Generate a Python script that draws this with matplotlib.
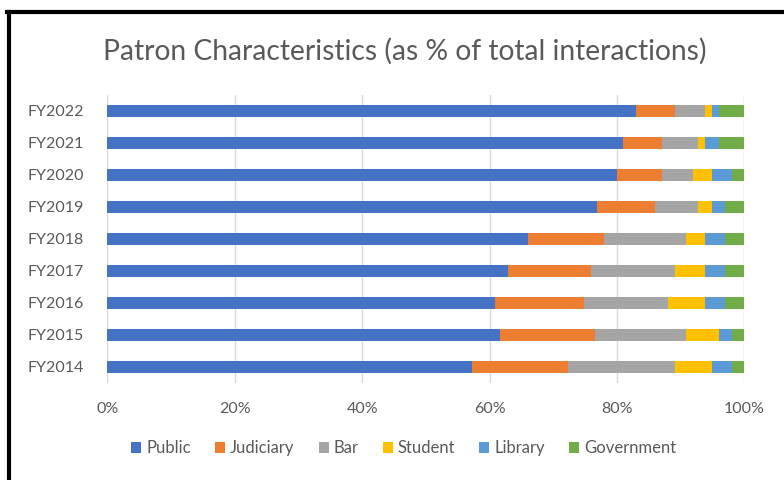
import matplotlib.pyplot as plt
from matplotlib.lines import Line2D
from matplotlib.ticker import PercentFormatter

plt.rcParams['font.family'] = ['Lato', 'DejaVu Sans']

years = ['FY2014', 'FY2015', 'FY2016', 'FY2017', 'FY2018',
         'FY2019', 'FY2020', 'FY2021', 'FY2022']

# share of interactions per patron type, percent
public     = [57.3, 61.6, 60.8, 62.9, 66.0, 76.9, 80.0, 81.0, 83.0]
judiciary  = [15.0, 15.0, 14.0, 13.0, 11.9,  9.1,  7.1,  6.1,  6.1]
bar        = [16.8, 14.2, 13.2, 13.2, 12.9,  6.8,  4.8,  5.7,  4.8]
student    = [ 5.8,  5.2,  5.9,  4.8,  3.1,  2.1,  3.0,  1.1,  1.0]
library    = [ 3.1,  2.0,  3.1,  3.1,  3.1,  2.1,  3.1,  2.1,  1.1]
government = [ 2.0,  2.0,  3.0,  3.0,  3.0,  3.0,  2.0,  4.0,  4.0]

series = [('Public', public, '#4472C4'),
          ('Judiciary', judiciary, '#ED7D31'),
          ('Bar', bar, '#A5A5A5'),
          ('Student', student, '#FFC000'),
          ('Library', library, '#5B9BD5'),
          ('Government', government, '#70AD47')]

txt = '#595959'

fig = plt.figure(figsize=(7.84, 4.8), dpi=100)
ax = fig.add_axes([0.1369, 0.2021, 0.8125, 0.6])

left = [0.0] * len(years)
for name, vals, col in series:
    ax.barh(years, vals, left=left, height=0.4, color=col, label=name, zorder=3)
    left = [a + b for a, b in zip(left, vals)]

ax.set_xlim(0, 100)
ax.set_ylim(-0.5, len(years) - 0.5)
ax.set_xticks(range(0, 101, 20))
ax.xaxis.set_major_formatter(PercentFormatter(decimals=0))
ax.grid(axis='x', color='#D9D9D9', linewidth=1, zorder=0)
for s in ax.spines.values():
    s.set_visible(False)
ax.tick_params(length=0, colors=txt, labelsize=11.5)
ax.tick_params(axis='x', pad=14)
ax.tick_params(axis='y', pad=17)

fig.text(0.516, 0.893, 'Patron Characteristics (as % of total interactions)',
         ha='center', va='center', fontsize=20.3, color=txt)

handles, labels = ax.get_legend_handles_labels()
fig.legend(handles, labels, loc='center', bbox_to_anchor=(0.515, 0.066),
           ncol=6, frameon=False, fontsize=12, labelcolor=txt,
           handlelength=0.6, handleheight=0.6, handletextpad=0.3,
           columnspacing=1.45)

# black frame along the top and left edges
fig.add_artist(Line2D([9 / 784, 9 / 784], [0, 1 - 12 / 480], color='black',
                      linewidth=3, transform=fig.transFigure))
fig.add_artist(Line2D([7 / 784, 1], [1 - 12 / 480, 1 - 12 / 480], color='black',
                      linewidth=3, transform=fig.transFigure))

fig.savefig('out.png', dpi=100)
